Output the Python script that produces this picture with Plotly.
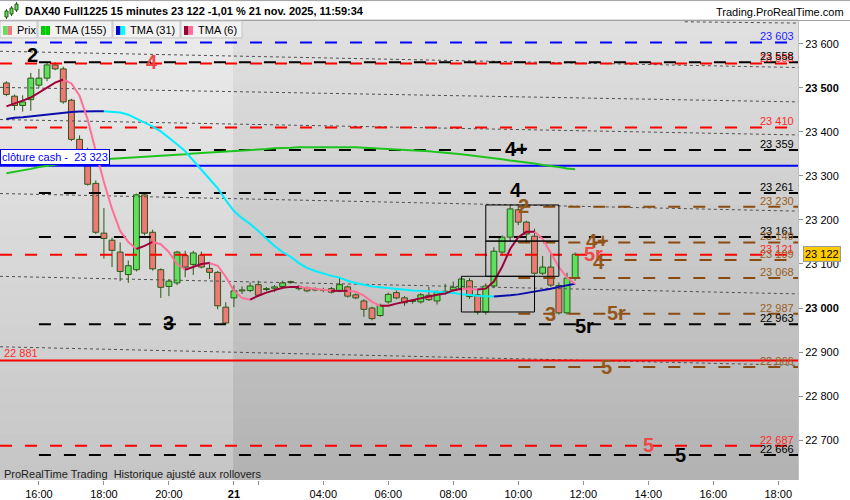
import plotly.graph_objects as go

# ------------------------------------------------------------------ data
# bar index: 0 = 16:00 (20 nov), 24 = 01:15 (21 nov), 66 = 11:45 (21 nov)
bar_index = list(range(-4, 67))
opens = [23511, 23481, 23460, 23473, 23506, 23522, 23552, 23543, 23472, 23383,
         23323, 23283, 23170, 23154, 23127, 23076, 23087, 23257, 23172, 23087,
         23049, 23057, 23119, 23099, 23120, 23090, 23081, 23002, 23023, 23039,
         23040, 23053, 23042, 23045, 23049, 23058, 23049, 23046, 23044, 23040,
         23044, 23039, 23048, 23030, 23016, 23000, 22983, 23014, 23035, 23023,
         23015, 23014, 23029, 23016, 23034, 23041, 23044, 23062, 23030, 22991,
         23050, 23127, 23161, 23223, 23195, 23163, 23079, 23093, 23051, 22989,
         23068]
highs = [23515, 23485, 23483, 23534, 23543, 23558, 23558, 23548, 23475, 23392,
         23364, 23290, 23227, 23160, 23149, 23108, 23260, 23260, 23178, 23090,
         23065, 23130, 23130, 23130, 23128, 23105, 23084, 23013, 23052, 23049,
         23058, 23062, 23048, 23052, 23062, 23062, 23052, 23049, 23047, 23046,
         23048, 23070, 23051, 23033, 23020, 23003, 23010, 23035, 23040, 23027,
         23020, 23034, 23048, 23040, 23055, 23060, 23070, 23068, 23044, 23056,
         23138, 23165, 23235, 23232, 23198, 23180, 23118, 23118, 23058, 23080,
         23126]
lows = [23481, 23449, 23446, 23448, 23500, 23515, 23540, 23464, 23379, 23345,
        23278, 23168, 23112, 23093, 23061, 23057, 23083, 23165, 23085, 23023,
        23027, 23052, 23070, 23075, 23090, 23066, 22997, 22963, 23002, 23032,
        23036, 23025, 23038, 23036, 23045, 23055, 23040, 23036, 23038, 23036,
        23033, 23036, 23024, 23020, 22980, 22972, 22980, 23010, 23020, 23005,
        23010, 23010, 23016, 23008, 23030, 23038, 23040, 23021, 22985, 22985,
        23045, 23118, 23150, 23188, 23150, 23070, 23075, 23048, 22985, 22985,
        23062]
closes = [23485, 23460, 23468, 23522, 23522, 23552, 23543, 23468, 23383, 23349,
          23281, 23172, 23158, 23131, 23083, 23096, 23257, 23170, 23089, 23047,
          23061, 23127, 23093, 23125, 23093, 23081, 23005, 22966, 23039, 23041,
          23050, 23029, 23044, 23048, 23057, 23060, 23044, 23039, 23041, 23042,
          23036, 23053, 23027, 23023, 22997, 22976, 23006, 23031, 23023, 23012,
          23017, 23030, 23019, 23036, 23038, 23047, 23066, 23026, 22991, 23050,
          23129, 23161, 23225, 23195, 23168, 23079, 23093, 23052, 22989, 23068,
          23122]
tma155 = [23306, 23309, 23313, 23316, 23320, 23323, 23325, 23328, 23330, 23332,
          23334, 23335, 23338, 23339, 23340, 23341, 23342, 23343, 23344, 23346,
          23347, 23348, 23349, 23351, 23352, 23354, 23355, 23356, 23357, 23358,
          23359, 23360, 23361, 23363, 23363, 23364, 23365, 23365, 23366, 23366,
          23366, 23366, 23365, 23365, 23364, 23363, 23363, 23361, 23360, 23359,
          23358, 23357, 23356, 23354, 23353, 23351, 23349, 23347, 23344, 23342,
          23340, 23338, 23335, 23333, 23331, 23328, 23325, 23323, 23320, 23317,
          23315]
tma31 = [23429, 23432, 23433, 23435, 23437, 23439, 23442, 23444, 23445, 23446,
         23447, 23447, 23447, 23446, 23444, 23439, 23430, 23421, 23412, 23401,
         23387, 23372, 23356, 23335, 23315, 23295, 23272, 23245, 23220, 23204,
         23191, 23175, 23157, 23141, 23127, 23116, 23102, 23091, 23084, 23078,
         23073, 23069, 23062, 23057, 23053, 23049, 23047, 23045, 23043, 23041,
         23040, 23039, 23038, 23037, 23036, 23034, 23031, 23029, 23028, 23027,
         23026, 23027, 23029, 23031, 23034, 23037, 23040, 23044, 23048, 23052,
         23055]
tma6 = [23458, 23464, 23471, 23478, 23489, 23500, 23512, 23519, 23510, 23482,
        23428, 23356, 23286, 23225, 23175, 23150, 23134, 23141, 23150, 23145,
        23127, 23100, 23087, 23093, 23100, 23102, 23096, 23071, 23039, 23023,
        23019, 23028, 23035, 23041, 23046, 23048, 23048, 23046, 23044, 23041,
        23039, 23039, 23039, 23037, 23028, 23014, 23005, 23005, 23010, 23014,
        23019, 23023, 23026, 23030, 23033, 23040, 23044, 23043, 23042, 23044,
        23060, 23093, 23134, 23161, 23173, 23173, 23157, 23125, 23093, 23069,
        23055]

time_tick_index = [0, 8, 16, 24, 27, 35, 43, 51, 59, 67, 75, 83, 91]
time_tick_labels = ["16:00", "18:00", "20:00", "<b>21</b>", "", "04:00", "06:00",
                    "08:00", "10:00", "12:00", "14:00", "16:00", "18:00"]
price_ticks = [22700, 22800, 22900, 23000, 23100, 23200, 23300, 23400, 23500, 23600]
price_tick_labels = ["22 700", "22 800", "22 900", "<b>23 000</b>", "23 100", "23 200",
                     "23 300", "23 400", "<b>23 500</b>", "23 600"]

# horizontal levels: price, kind, start bar, right label
level_prices = [23603, 23555, 23558, 23410, 23359, 23323, 23261, 23230, 23161, 23149,
                23121, 23109, 23068, 22987, 22963, 22881, 22866, 22687, 22666]
level_kinds = ["blue", "red", "black", "red", "black", "bluesolid", "black", "brown", "black", "brown",
               "red", "brown", "brown", "brown", "black", "redsolid", "brown", "red", "black"]
level_starts = [None, None, 0, None, 0, None, 0, 59, 0, 59,
                None, 69, 59, 59, 0, None, 59, None, 0]
level_labels = ["23 555", "23 555", "23 558", "23 410", "23 359", "", "23 261", "23 230", "23 161", "23 149",
                "23 121", "23 109", "23 068", "22 987", "22 963", "", "22 866", "22 687", "22 666"]
level_labels[0] = "23 603"

# sloping dotted trend lines (price at left edge, price at right edge)
trend_left = [23583, 23501, 23428, 23260, 23072, 22912]
trend_right = [23546, 23468, 23393, 23220, 23032, 22870]

# wave labels: text, colour kind, bar position, price
wave_text = ["2", "4", "4+", "4", "2", "4+", "5r", "4", "3", "5r", "5r", "3", "5", "5", "5"]
wave_kind = ["black", "red", "black", "black", "brown", "brown", "red", "brown", "brown", "brown",
             "black", "black", "brown", "red", "black"]
wave_bar = [-0.85, 13.9, 58.8, 58.7, 59.7, 68.8, 68.2, 68.9, 63.0, 71.1, 67.2, 15.9, 69.9, 75.0, 79.0]
wave_price = [23575, 23559, 23360, 23268, 23231, 23152, 23123, 23105, 22987, 22989, 22960, 22965,
              22865, 22689, 22666]

# rectangles drawn on chart (bar from, bar to, price low, price high)
box_bar0 = [55, 55, 52]
box_bar1 = [64, 64, 61]
box_lo = [23152, 23072, 22991]
box_hi = [23234, 23152, 23072]

last_price = 23122
cash_close = 23323
title_text = "DAX40 Full1225 15 minutes 23 122 -1,01 % 21 nov. 2025, 11:59:34"

# ------------------------------------------------------------------ layout helpers
W, H = 850, 500
ML, MR, MT, MB = 0, 52, 20, 18
PW, PH = W - ML - MR, H - MT - MB


def PX(x):
    return (x - ML) / PW


def PY(y):
    return (H - MB - y) / PH


X_LEFT, X_RIGHT = -4.79, 93.43
Y_LOW, Y_HIGH = 22609.5, 23654
SESSION_SPLIT = 23.9
FONT = "Arial, Liberation Sans, sans-serif"

EDGE = "#2b5814"
UP_FILL = "#5ee05e"
DN_FILL = "#f07878"
COL = {"black": "#000000", "red": "#ff0000", "brown": "#8a4b10", "blue": "#0000ff",
       "bluesolid": "#0000ff", "redsolid": "#ff0000"}
TXT = {"black": "#000000", "red": "#ff2a2a", "brown": "#9a6024", "blue": "#2222ff"}
WAVE = {"black": "#000000", "red": "#ee4848", "brown": "#94561a"}

fig = go.Figure()
shapes = []
annotations = []

# background gradient (two sessions)
N = 30
def mix(c0, c1, t):
    return "rgb(%d,%d,%d)" % tuple(round(a + (b - a) * t) for a, b in zip(c0, c1))

for k in range(N):
    y0, y1 = k / N, (k + 1) / N
    t = 1 - (y0 + y1) / 2
    shapes.append(dict(type="rect", xref="x", yref="paper", x0=X_LEFT - 5, x1=SESSION_SPLIT,
                       y0=y0, y1=y1 + 0.002, fillcolor=mix((236, 236, 236), (197, 197, 197), t),
                       line=dict(width=0), layer="below"))
    shapes.append(dict(type="rect", xref="x", yref="paper", x0=SESSION_SPLIT, x1=X_RIGHT + 5,
                       y0=y0, y1=y1 + 0.002, fillcolor=mix((225, 225, 225), (178, 178, 178), t),
                       line=dict(width=0), layer="below"))

# trend lines
for pl, pr in zip(trend_left, trend_right):
    fig.add_trace(go.Scatter(x=[X_LEFT, X_RIGHT], y=[pl, pr], mode="lines",
                             line=dict(color="#505050", width=1, dash="3px,3px"), hoverinfo="skip"))
fig.add_trace(go.Scatter(x=[79.5, X_RIGHT], y=[23650, 23647], mode="lines",
                         line=dict(color="#505050", width=1, dash="3px,3px"), hoverinfo="skip"))

# candles
fills = [UP_FILL if c >= o else DN_FILL for o, c in zip(opens, closes)]
fig.add_trace(go.Bar(x=bar_index, y=[abs(c - o) for o, c in zip(opens, closes)],
                     base=[min(o, c) for o, c in zip(opens, closes)], width=0.72,
                     marker=dict(color=fills, line=dict(color=EDGE, width=1)), hoverinfo="skip"))
wx, wy = [], []
for i, o, h, l, c in zip(bar_index, opens, highs, lows, closes):
    wx += [i, i, None, i, i, None]
    wy += [h, max(o, c), None, min(o, c), l, None]
fig.add_trace(go.Scatter(x=wx, y=wy, mode="lines", line=dict(color=EDGE, width=1), hoverinfo="skip"))

# levels
for p, kind, st, lab in zip(level_prices, level_kinds, level_starts, level_labels):
    x0 = X_LEFT if st is None else st
    dash = "solid" if kind.endswith("solid") else "12px,13px"
    fig.add_trace(go.Scatter(x=[x0, X_RIGHT + 1], y=[p, p], mode="lines",
                             line=dict(color=COL[kind], width=2, dash=dash), hoverinfo="skip"))
    if lab:
        annotations.append(dict(xref="paper", yref="y", x=PX(796), y=p, xanchor="right", yanchor="bottom",
                                yshift=-2, text=lab, showarrow=False,
                                font=dict(family=FONT, size=11, color=TXT[kind])))

# moving averages (colour by slope)
def add_ma(vals, up, down, width=2):
    n = len(vals)
    def col(k):
        return up if vals[k + 1] >= vals[k] else down
    k = 0
    while k < n - 1:
        c = col(k)
        j = k
        while j < n - 1 and col(j) == c:
            j += 1
        fig.add_trace(go.Scatter(x=bar_index[k:j + 1], y=vals[k:j + 1], mode="lines",
                                 line=dict(color=c, width=width), hoverinfo="skip"))
        k = j

add_ma(tma155, "#1ec41e", "#1ec41e")
add_ma(tma31, "#0c0cac", "#00eeff")
add_ma(tma6, "#9e0039", "#ff6f98")

# rectangles
for b0, b1, lo, hi in zip(box_bar0, box_bar1, box_lo, box_hi):
    shapes.append(dict(type="rect", xref="x", yref="y", x0=b0, x1=b1, y0=lo, y1=hi,
                       line=dict(color="#000000", width=1), fillcolor="rgba(0,0,0,0)", layer="above"))

# wave labels
for t, kind, b, p in zip(wave_text, wave_kind, wave_bar, wave_price):
    annotations.append(dict(xref="x", yref="y", x=b, y=p, text="<b>%s</b>" % t, showarrow=False,
                            xanchor="center", yanchor="middle",
                            font=dict(family=FONT, size=20, color=WAVE[kind])))

# cash close & left label
annotations.append(dict(xref="paper", yref="y", x=0, y=cash_close, xanchor="left", yanchor="bottom",
                        yshift=1, text="clôture cash -  23 323", showarrow=False, bgcolor="#ffffff",
                        bordercolor="#0000ff", borderwidth=1, borderpad=1,
                        font=dict(family=FONT, size=11, color="#0000ff")))
annotations.append(dict(xref="paper", yref="y", x=PX(2), y=22881, xanchor="left", yanchor="bottom",
                        yshift=-1, text="22 881", showarrow=False,
                        font=dict(family=FONT, size=11, color="#ff2a2a")))

# last price tag
annotations.append(dict(xref="paper", yref="y", x=PX(803), y=last_price, xanchor="left", yanchor="middle",
                        text="23 122", showarrow=False, bgcolor="#ffcc00", bordercolor="#9a9a9a",
                        borderwidth=1, borderpad=1, font=dict(family=FONT, size=11, color="#000000")))

# footer text
annotations.append(dict(xref="paper", yref="paper", x=PX(2), y=PY(476), xanchor="left", yanchor="middle",
                        text="ProRealTime Trading  Historique ajusté aux rollovers", showarrow=False,
                        font=dict(family=FONT, size=11, color="#202020")))

# title bar
shapes.append(dict(type="line", xref="paper", yref="paper", x0=PX(0), x1=PX(850), y0=PY(20.5), y1=PY(20.5),
                   line=dict(color="#a0a0a0", width=1), layer="above"))
shapes.append(dict(type="line", xref="paper", yref="paper", x0=PX(0), x1=PX(850), y0=PY(0.5), y1=PY(0.5),
                   line=dict(color="#a0a0a0", width=1), layer="above"))
annotations.append(dict(xref="paper", yref="paper", x=PX(23), y=PY(11), xanchor="left", yanchor="middle",
                        text="<b>%s</b>" % title_text, showarrow=False,
                        font=dict(family=FONT, size=11, color="#000000")))
annotations.append(dict(xref="paper", yref="paper", x=PX(846), y=PY(12), xanchor="right", yanchor="middle",
                        text="Trading.ProRealTime.com", showarrow=False,
                        font=dict(family=FONT, size=11, color="#000000")))
# small candle icon
for (xa, xb, ya, yb) in [(5, 8, 11, 17), (10, 13, 8, 14), (15, 18, 4, 10)]:
    shapes.append(dict(type="line", xref="paper", yref="paper", x0=PX((xa + xb) / 2), x1=PX((xa + xb) / 2),
                       y0=PY(ya - 2), y1=PY(yb + 2), line=dict(color=EDGE, width=1), layer="above"))
    shapes.append(dict(type="rect", xref="paper", yref="paper", x0=PX(xa), x1=PX(xb), y0=PY(ya), y1=PY(yb),
                       fillcolor=UP_FILL, line=dict(color=EDGE, width=1), layer="above"))

# legend boxes
legend_items = [("Prix", 0, 37, ("#5ee05e", "#f07878")),
                ("TMA (155)", 38, 112, ("#00cc00", "#00cc00")),
                ("TMA (31)", 113, 180, ("#0000cc", "#00ffff")),
                ("TMA (6)", 181, 242, ("#990033", "#ff6f98"))]
for name, xa, xb, (c1, c2) in legend_items:
    shapes.append(dict(type="rect", xref="paper", yref="paper", x0=PX(xa), x1=PX(xb), y0=PY(38), y1=PY(21),
                       fillcolor="#f2f2f2", line=dict(color="#c4c4c4", width=1), layer="above"))
    shapes.append(dict(type="rect", xref="paper", yref="paper", x0=PX(xa + 3), x1=PX(xa + 7.5), y0=PY(35),
                       y1=PY(26), fillcolor=c1, line=dict(width=0), layer="above"))
    shapes.append(dict(type="rect", xref="paper", yref="paper", x0=PX(xa + 7.5), x1=PX(xa + 12), y0=PY(35),
                       y1=PY(26), fillcolor=c2, line=dict(width=0), layer="above"))
    annotations.append(dict(xref="paper", yref="paper", x=PX(xa + 15), y=PY(30), xanchor="left",
                            yanchor="middle", text=name, showarrow=False,
                            font=dict(family=FONT, size=11, color="#000000")))

fig.update_layout(
    width=W, height=H, margin=dict(l=ML, r=MR, t=MT, b=MB),
    paper_bgcolor="#ffffff", plot_bgcolor="#d8d8d8", showlegend=False,
    barmode="overlay", shapes=shapes, annotations=annotations,
    xaxis=dict(range=[X_LEFT, X_RIGHT], tickvals=time_tick_index, ticktext=time_tick_labels,
               showgrid=False, zeroline=False, ticks="outside", ticklen=4, tickcolor="#909090",
               tickfont=dict(family=FONT, size=11, color="#000000"), showline=False, fixedrange=True),
    yaxis=dict(range=[Y_LOW, Y_HIGH], side="right", tickvals=price_ticks, ticktext=price_tick_labels,
               showgrid=False, zeroline=False, ticks="outside", ticklen=4, tickcolor="#909090",
               tickfont=dict(family=FONT, size=11, color="#000000"), showline=True, linecolor="#c0c0c0",
               fixedrange=True),
)

fig.write_html("out.html", config={"displayModeBar": False},
               post_script="document.body.style.margin='0';document.body.style.overflow='hidden';")
